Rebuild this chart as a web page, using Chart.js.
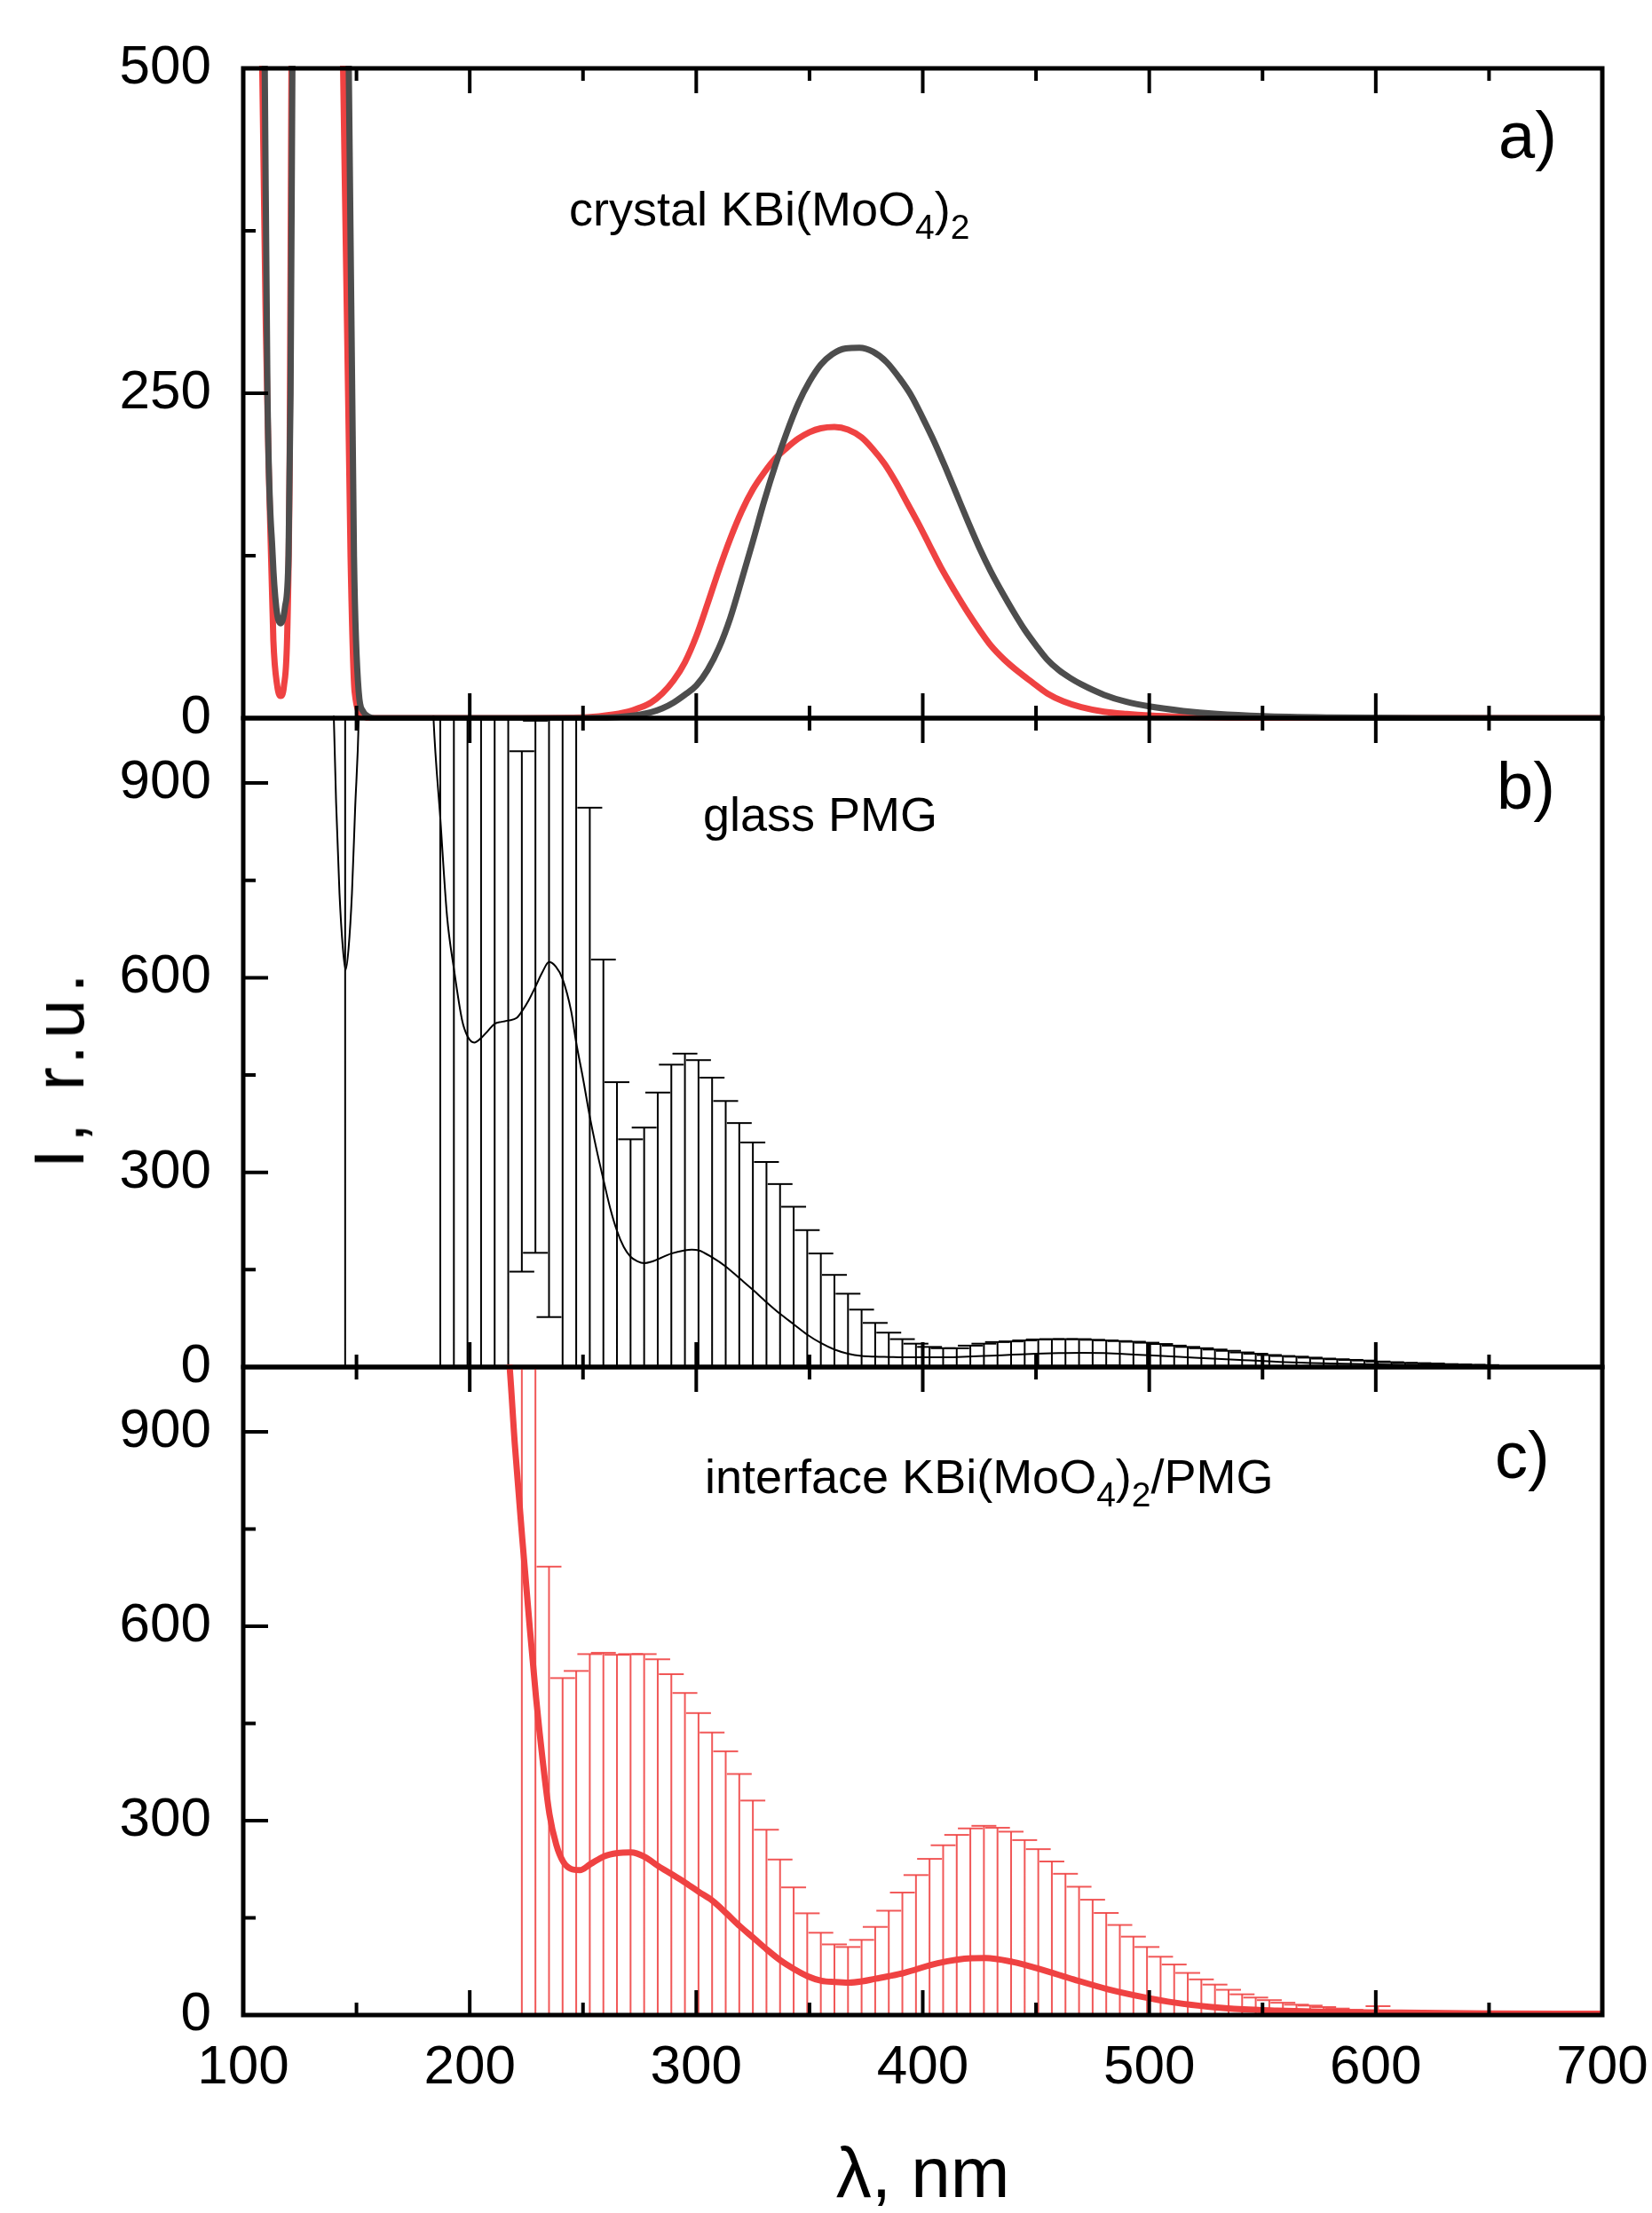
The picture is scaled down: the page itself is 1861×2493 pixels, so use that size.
<!DOCTYPE html>
<html>
<head>
<meta charset="utf-8">
<title>KBi(MoO4)2 / PMG spectra</title>
<script src="https://cdn.jsdelivr.net/npm/chart.js@4.4.1/dist/chart.umd.min.js"></script>
<style>
  html, body { margin: 0; padding: 0; background: #fff; }
  #page { position: relative; width: 1861px; height: 2493px; overflow: hidden;
          font-family: "Liberation Sans", Arial, sans-serif; color: #000; }
  #page canvas { position: absolute; left: 0; top: 0; }
  .note { position: absolute; font-size: 54px; line-height: 54px; white-space: nowrap; z-index: 5; }
  .note sub { font-size: 39px; vertical-align: -15px; line-height: 0; }
  .tag { position: absolute; font-size: 74px; line-height: 74px; white-space: nowrap; z-index: 5; }
  .ytitle { position: absolute; left: 67px; top: 1203px; font-size: 80px; line-height: 1;
            letter-spacing: 7px; white-space: nowrap; z-index: 5;
            transform: translate(-50%, -50%) rotate(-90deg); }
</style>
</head>
<body>
<div id="page">
  <canvas id="chartA" width="1861" height="2493"></canvas>
  <canvas id="chartB" width="1861" height="2493"></canvas>
  <canvas id="chartC" width="1861" height="2493"></canvas>
  <div class="note" style="left:641px;top:208px">crystal KBi(MoO<sub>4</sub>)<sub>2</sub></div>
  <div class="note" style="left:792px;top:890px">glass PMG</div>
  <div class="note" style="left:794px;top:1636px">interface KBi(MoO<sub>4</sub>)<sub>2</sub>/PMG</div>
  <div class="tag" style="left:1688px;top:116px">a)</div>
  <div class="tag" style="left:1686px;top:849px">b)</div>
  <div class="tag" style="left:1684px;top:1603px">c)</div>
  <div class="ytitle">I, r.u.</div>
</div>
<script>
// axis ticks
const xTicks = [100, 200, 300, 400, 500, 600, 700];
const xMinorTicks = [150, 250, 350, 450, 550, 650];
const yTicksA = [0, 250, 500];
const yMinorA = [125, 375];
const yTicksBC = [0, 300, 600, 900];
const yMinorBC = [150, 450, 750];

// a) crystal, two spectra
const grayX = [108, 109.5, 110.7, 113, 114.6, 116.5, 118.4, 120, 120.9, 121.7, 123,
  143, 146.6, 148.9, 151, 153, 155.5, 158, 200, 250, 270, 280, 285, 290, 295,
  300, 305, 310, 315, 320, 325, 330, 335, 340, 345, 350, 355, 360, 366, 372,
  378, 384, 390, 395, 400, 405, 410, 415, 420, 425, 430, 435, 440, 445, 450,
  455, 460, 465, 470, 480, 490, 500, 515, 530, 550, 580, 620, 700];
const grayY = [800, 500, 250, 125, 85, 73, 85, 125, 250, 500, 800,
  800, 500, 124, 20, 5, 1, 0, 0, 0, 1.5, 4.5, 7.5, 12, 18,
  25, 37, 54, 77, 106, 136, 167, 195, 220, 242, 259, 272, 280, 284.5, 285,
  282, 274, 261, 248, 231, 213, 193, 172, 151, 131, 113, 97, 82, 68, 56,
  45, 37, 31, 26, 18, 12.5, 9, 5.5, 3.2, 1.5, 0.5, 0.1, 0];
const redX = [107, 108.4, 110, 111.2, 113.3, 115, 116.5, 118, 119.5, 120.5, 121.3, 122.5,
  142, 144.1, 147.4, 149.2, 152.7, 156, 200, 250, 260, 270, 275, 280, 285,
  290, 295, 300, 305, 310, 315, 320, 325, 330, 335, 340, 345, 350, 355, 361,
  367, 373, 378, 383, 388, 393, 398, 403, 408, 414, 420, 425, 430, 436, 442,
  448, 455, 462, 470, 480, 490, 500, 515, 540, 560, 700];
const redY = [800, 500, 300, 195, 60, 25, 17, 25, 70, 200, 500, 800,
  800, 500, 124, 20, 2, 0, 0, 0.5, 2, 5, 8, 12, 19,
  29, 43, 63, 88, 114, 138, 159, 176, 189, 200, 208, 215, 220, 223, 224,
  222, 216, 207, 196, 182, 166, 150, 133, 116, 98, 81, 68, 56, 45, 36,
  28, 19, 13, 8.5, 5, 3.2, 2, 1, 0.3, 0, 0];

// b) glass PMG
const glassX = [138, 140, 141, 142.5, 144, 145.2, 146.5, 148, 149.4, 151, 153,
  180, 184, 187, 190, 193, 196.6, 199, 202, 205, 208, 211, 214, 217, 220.7,
  223, 226, 229, 232, 235, 238, 241, 244.8, 247, 250,
  253, 256, 259, 262, 265, 268, 271, 274, 277, 280,
  283, 289, 295, 298, 301, 307, 313, 319, 325, 331,
  337, 343, 349, 355, 361, 367, 373, 379, 385, 391,
  400, 410, 420, 430, 440, 450, 460, 470, 480, 490,
  500, 520, 540, 560, 580, 600, 620, 650, 680, 700];
const glassY = [1400, 1000, 870, 730, 645, 612, 645, 730, 860, 1000, 1400,
  1400, 1000, 846, 694, 614, 535, 510, 500, 507, 518, 529, 532, 534, 538,
  548, 565, 586, 608, 624, 617, 598, 548, 500, 445,
  386, 335, 289, 245, 210, 185, 170, 163, 160, 162,
  166, 175, 180, 181, 180, 169, 155, 137, 119, 100,
  82, 66, 50, 37, 27, 20.5, 17, 16, 15.5, 15,
  15, 15, 16, 17.5, 19, 20.5, 21.5, 22, 21.5, 20,
  18, 14.5, 11, 7.5, 5.5, 4, 3, 1.5, 0.5, 0.3];
const glassBarX = [145, 187, 193, 199, 205, 211, 217, 223, 229, 235, 241, 247, 253, 259,
  265, 271, 277, 283, 289, 295, 301, 307, 313, 319, 325, 331, 337, 343, 349, 355,
  361, 367, 373, 379, 385, 391, 397, 403, 409, 415, 421, 427, 433, 439, 445, 451,
  457, 463, 469, 475, 481, 487, 493, 499, 505, 511, 517, 523, 529, 535, 541, 547,
  553, 559, 565, 571, 577, 583, 589, 595, 601, 607, 613, 619, 625, 631, 637, 643, 649];
const glassBarY = [612, 846, 614, 510, 507, 529, 534, 548, 586, 624, 598, 500, 386, 289,
  210, 170, 160, 166, 175, 180, 180, 169, 155, 137, 119, 100, 82, 66, 50, 37,
  27, 20.5, 17, 16, 15.5, 15, 15, 15, 15, 15.5, 16, 17, 17.5, 19, 20, 20.5,
  21, 21.5, 22, 22, 21.5, 21, 20, 18, 17, 16, 15, 14, 13, 11.5, 10, 9,
  8.5, 7.8, 7, 6.5, 6, 5.5, 5, 4.3, 4, 3.7, 3.4, 3, 2.8, 2.5, 2.2, 1.9, 1.5];
const glassBarErr = [700, 900, 800, 700, 700, 700, 700, 401, 410, 547, 650, 560, 476, 339,
  229, 181, 209, 257, 291, 303, 293, 277, 255, 239, 227, 216, 200, 181, 161, 138,
  115, 92.5, 71.5, 52, 37.5, 28, 21, 16, 14, 13.5, 17, 19, 21, 20.5, 21, 22,
  22, 21.5, 21, 20, 19.5, 19, 19, 19.5, 18.5, 17, 16, 15, 14, 13.5, 12.5, 11.5,
  10, 9.2, 9, 8, 7, 6.5, 6, 5.7, 4.5, 3.8, 3.1, 3, 2.7, 2, 1.8, 1.6, 1.5];

// c) interface KBi(MoO4)2/PMG
const ifaceX = [212, 217.3, 219.9, 223.2, 226.4, 229.3, 232.3, 235.2, 238.2, 241.2,
  244.7, 248.6, 253.3, 259.3, 265.2, 271.2, 277.3, 283.2, 289.3, 295.3,
  301.2, 307.3, 313.3, 319.3, 325.3, 331.2, 337.3, 343.2, 349.1, 355.2,
  361.2, 367.3, 373.2, 379, 385, 391.7, 406.6, 421.6, 427.6, 439.6,
  451.6, 466.6, 481.6, 496.6, 511.6, 526.6, 541.6, 556.6, 571.6, 586.6,
  611, 650, 700];
const ifaceY = [1150, 1014, 881, 735, 602, 489, 390, 310, 263, 237,
  225.5, 223.6, 233, 245, 250, 251, 244, 230, 217, 204,
  190, 176, 157, 137, 119, 101, 84, 71, 60, 53,
  51, 50, 52, 56, 60, 65, 80, 87.7, 88, 82,
  71, 55, 40, 28.3, 19, 12.8, 9, 7, 5.5, 4.5,
  3.6, 2.5, 2];
const ifaceBarX = [223, 229, 235, 241, 247, 253, 259, 265, 271, 277, 283, 289, 295, 301,
  307, 313, 319, 325, 331, 337, 343, 349, 355, 361, 367, 373, 379, 385, 391, 397,
  403, 409, 415, 421, 427, 433, 439, 445, 451, 457, 463, 469, 475, 481, 487, 493,
  499, 505, 511, 517, 523, 529, 535, 541, 547, 553, 559, 565, 571, 577, 583, 589, 595, 601];
const ifaceBarY = [735, 489, 310, 237, 224, 233, 245, 250, 251, 244, 230, 217, 204, 190,
  176, 157, 137, 119, 101, 84, 71, 60, 53, 51, 50, 52, 56, 60, 64, 71,
  77, 82, 85, 87.5, 88, 86, 82, 77, 71, 65, 58.5, 52, 46, 40, 35, 31,
  27, 23, 19, 16.5, 14, 12, 10.5, 9, 8, 7.4, 6.8, 6.2, 5.5, 5, 4.7, 4.4, 4.1, 3.9];
const ifaceBarErr = [800, 600, 382, 283, 307, 324, 314, 306, 306, 313, 319, 309, 293, 276,
  260, 250, 235, 212, 185, 156, 126, 97, 74, 58, 55, 64, 80, 101, 125, 145,
  164, 180, 193, 200.5, 204, 203, 201, 193, 185, 172, 159.5, 146, 132, 117.5, 104, 90,
  78, 67, 59, 48.5, 41, 35, 28.5, 23, 19, 15.6, 12.2, 9.8, 9.1, 7.3, 5.3, 3.6, 2.4, 9.8];

const RED = '#ef4242';
const GRAY = '#4d4d4d';

Chart.defaults.font.family = '"Liberation Sans", Arial, sans-serif';
Chart.defaults.color = '#000';

function pts(xs, ys) {
  return xs.map((x, i) => ({x: x, y: ys[i]}));
}

// vertical stems of the error bars, split by null points
function stems(xs, ys, errs) {
  const out = [];
  xs.forEach((x, i) => {
    out.push({x: x, y: ys[i] - errs[i]}, {x: x, y: ys[i] + errs[i]}, {x: x, y: null});
  });
  return out;
}

function caps(xs, ys, errs) {
  const out = [];
  xs.forEach((x, i) => {
    out.push({x: x, y: ys[i] + errs[i]}, {x: x, y: ys[i] - errs[i]});
  });
  return out;
}

function curve(data, color, width) {
  return {
    data: data, borderColor: color, borderWidth: width, pointRadius: 0,
    cubicInterpolationMode: 'monotone', fill: false, clip: 3
  };
}

function errorSets(xs, ys, errs, color) {
  return [{
    data: stems(xs, ys, errs), borderColor: color, borderWidth: 2,
    pointRadius: 0, spanGaps: false, tension: 0, clip: 1
  }, {
    data: caps(xs, ys, errs), showLine: false, pointStyle: 'line', pointRadius: 14,
    pointBorderWidth: 2, pointBorderColor: color, pointBackgroundColor: color, clip: 1
  }];
}

// boxed frame with inward ticks
function framePlugin(yMajor, yMinor) {
  return {
    id: 'frame',
    afterDraw(chart) {
      const ctx = chart.ctx;
      const a = chart.chartArea;
      const xs = chart.scales.x, ys = chart.scales.y;
      ctx.save();
      ctx.strokeStyle = '#000';
      ctx.lineWidth = 4;
      ctx.beginPath();
      const vtick = (v, len) => {
        const px = xs.getPixelForValue(v);
        ctx.moveTo(px, a.top); ctx.lineTo(px, a.top + len);
        ctx.moveTo(px, a.bottom); ctx.lineTo(px, a.bottom - len);
      };
      const htick = (v, len) => {
        const py = ys.getPixelForValue(v);
        ctx.moveTo(a.left, py); ctx.lineTo(a.left + len, py);
      };
      xTicks.forEach(v => vtick(v, 28));
      xMinorTicks.forEach(v => vtick(v, 14));
      yMajor.forEach(v => htick(v, 28));
      yMinor.forEach(v => htick(v, 14));
      ctx.stroke();
      ctx.lineWidth = 5;
      ctx.strokeRect(a.left, a.top, a.right - a.left, a.bottom - a.top);
      ctx.restore();
    }
  };
}

function makePanel(id, cfg) {
  return new Chart(document.getElementById(id), {
    type: 'line',
    data: {datasets: cfg.datasets},
    options: {
      responsive: false,
      animation: false,
      events: [],
      layout: {padding: {top: cfg.top, bottom: cfg.bottom, left: 0, right: 56}},
      plugins: {legend: {display: false}, tooltip: {enabled: false}},
      scales: {
        x: {
          type: 'linear', min: 100, max: 700, display: cfg.showX,
          afterBuildTicks: s => { s.ticks = xTicks.map(v => ({value: v})); },
          afterFit: s => {
            s.paddingLeft = 0;
            s.paddingRight = 0;
            if (cfg.showX) s.height = 223;
          },
          grid: {display: false, drawTicks: false},
          border: {display: false},
          ticks: {font: {size: 62}, padding: 23, maxRotation: 0, autoSkip: false},
          title: {display: cfg.showX, text: 'λ, nm', font: {size: 80, lineHeight: 1}, padding: 0}
        },
        y: {
          type: 'linear', min: 0, max: cfg.yMax,
          afterBuildTicks: s => { s.ticks = cfg.yTicks.map(v => ({value: v})); },
          afterFit: s => { s.width = 274; },
          grid: {display: false, drawTicks: false},
          border: {display: false},
          ticks: {font: {size: 62}, padding: 36, autoSkip: false}
        }
      }
    },
    plugins: [framePlugin(cfg.yTicks, cfg.yMinor)]
  });
}

makePanel('chartA', {
  top: 77, bottom: 2493 - 809, yMax: 500, yTicks: yTicksA, yMinor: yMinorA, showX: false,
  datasets: [curve(pts(grayX, grayY), GRAY, 7), curve(pts(redX, redY), RED, 7)]
});

makePanel('chartB', {
  top: 809, bottom: 2493 - 1540, yMax: 1000, yTicks: yTicksBC, yMinor: yMinorBC, showX: false,
  datasets: [curve(pts(glassX, glassY), '#000', 2)]
    .concat(errorSets(glassBarX, glassBarY, glassBarErr, '#000'))
});

makePanel('chartC', {
  top: 1540, bottom: 0, yMax: 1000, yTicks: yTicksBC, yMinor: yMinorBC, showX: true,
  datasets: [curve(pts(ifaceX, ifaceY), RED, 7)]
    .concat(errorSets(ifaceBarX, ifaceBarY, ifaceBarErr, 'rgba(240,70,70,0.9)'))
});
</script>
</body>
</html>
